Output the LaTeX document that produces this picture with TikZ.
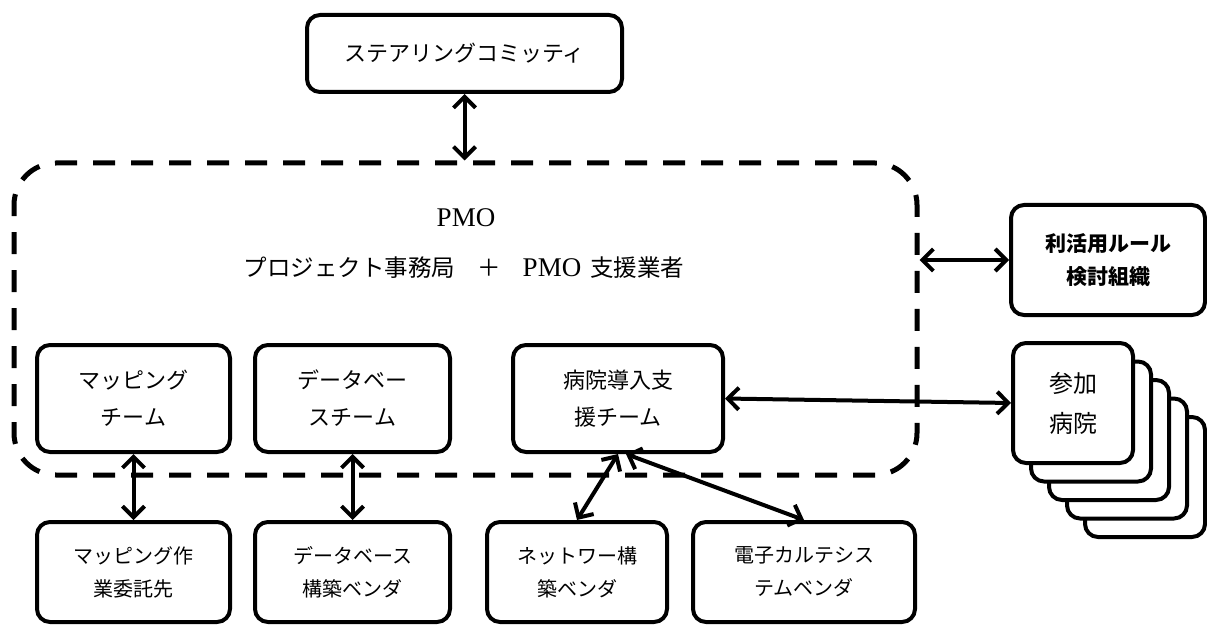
\documentclass[tikz,border=0pt]{standalone}
\usepackage{fontspec}
\setmainfont{Liberation Serif}
\newfontfamily\jp{Noto Sans CJK JP}
\usetikzlibrary{arrows.meta,calc}
\begin{document}
\begin{tikzpicture}[x=1pt,y=-1pt,
  box/.style={draw, line width=4pt, rounded corners=13pt, fill=white, inner sep=0pt, align=center},
  big/.style={font=\jp\fontsize{22}{37}\selectfont},
  small/.style={font=\jp\fontsize{20}{33}\selectfont},
  link/.style={line width=4pt, {Straight Barb[length=11pt,width=22pt]}-{Straight Barb[length=11pt,width=22pt]}},
  dashbox/.style={draw, line width=5pt, dash pattern=on 22pt off 16pt, rounded corners=42pt, inner sep=0pt}
]
\useasboundingbox (0,0) rectangle (1207,628);
% PMO dashed region
\node[dashbox, minimum width=903pt, minimum height=312pt] (pmo) at (465.5,319) {};
\node[font=\fontsize{27}{30}\selectfont] (pmot) at (466,218) {PMO};
\node[font=\fontsize{27}{30}\selectfont] (pmos) at (464,268) {{\jp\fontsize{23.5}{30}\selectfont プロジェクト事務局}\hspace{22pt}{\jp\fontsize{23.5}{30}\selectfont ＋}\hspace{22pt}PMO\hspace{9pt}{\jp\fontsize{23.5}{30}\selectfont 支援業者}};
% steering committee
\node[box, big, minimum width=315pt, minimum height=77pt] (steer) at (464.5,53.5) {ステアリングコミッティ};
% rule organisation
\node[box, font=\jp\bfseries\fontsize{21}{33}\selectfont, minimum width=194pt, minimum height=110pt] (rule) at (1108,260) {利活用ルール\\検討組織};
% participating hospitals (stack)
\foreach \i in {4,3,2,1} {
  \node[box, minimum width=120pt, minimum height=120pt] (stack\i) at ({1073+18*\i},{403+18.5*\i}) {};
}
\node[box, font=\jp\fontsize{24}{40}\selectfont, minimum width=120pt, minimum height=120pt] (sanka) at (1073,403) {参加\\病院};
% teams inside PMO
\node[box, big, minimum width=193pt, minimum height=107pt] (mapteam) at (133.5,398.5) {マッピング\\チーム};
\node[box, big, minimum width=195pt, minimum height=107pt] (dbteam) at (352.5,398.5) {データベー\\スチーム};
\node[box, big, minimum width=210pt, minimum height=107pt] (hosp) at (618,398.5) {病院導入支\\援チーム};
% vendors
\node[box, small, minimum width=193pt, minimum height=100pt] (mapout) at (133.5,572) {マッピング作\\業委託先};
\node[box, small, minimum width=195pt, minimum height=100pt] (dbven) at (352.5,572) {データベース\\構築ベンダ};
\node[box, small, minimum width=180pt, minimum height=100pt] (net) at (577,572) {ネットワー構\\築ベンダ};
\node[box, small, minimum width=222pt, minimum height=100pt] (emr) at (804,572) {電子カルテシス\\テムベンダ};
% connectors
\draw[link] (steer.south) -- (steer.south |- pmo.north);
\draw[link] (pmo.east |- rule.west) -- (rule.west);
\draw[link] (hosp.east) -- (sanka.west);
\draw[link] (mapteam.south) -- (mapout.north);
\draw[link] (dbteam.south) -- (dbven.north);
\draw[link] (hosp.south) -- (net.north);
\draw[link] ([xshift=8pt]hosp.south) -- (emr.north);
\end{tikzpicture}
\end{document}
